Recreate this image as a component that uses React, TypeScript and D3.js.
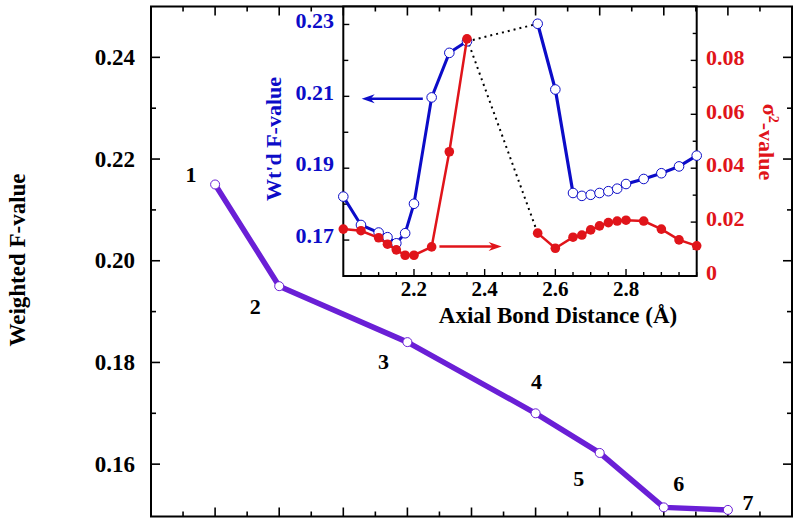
import React from "react";
import * as d3 from "d3";

// ---- main chart data ----
const mainX = [1, 2, 4, 6, 7, 8, 9];
const mainY = [0.215, 0.195, 0.184, 0.170, 0.1622, 0.1515, 0.151];
const mainLabels = ["1", "2", "3", "4", "5", "6", "7"];
const mainYTicks = [0.16, 0.18, 0.2, 0.22, 0.24];

// ---- inset data ----
const insetXLeft = [2.0, 2.05, 2.1, 2.125, 2.15, 2.175, 2.2, 2.25, 2.3, 2.35];
const insetXRight = [2.55, 2.6, 2.65, 2.675, 2.7, 2.725, 2.75, 2.775, 2.8, 2.85, 2.9, 2.95, 3.0];
const fValueLeft = [0.1821, 0.1742, 0.1721, 0.1708, 0.1691, 0.1719, 0.1801, 0.2097, 0.2221, 0.2253];
const fValueRight = [0.2302, 0.2119, 0.1831, 0.1823, 0.1826, 0.1831, 0.1836, 0.1843, 0.1856, 0.187, 0.1886, 0.1905, 0.1935];
const sigmaLeft = [0.0174, 0.0168, 0.0142, 0.0118, 0.0097, 0.0077, 0.0077, 0.0108, 0.0461, 0.088];
const sigmaRight = [0.0159, 0.0103, 0.0144, 0.0152, 0.0171, 0.0186, 0.0198, 0.0204, 0.0207, 0.0204, 0.0174, 0.0134, 0.0112];
const insetXTicks = [2.2, 2.4, 2.6, 2.8];
const insetLeftTicks = [0.17, 0.19, 0.21, 0.23];
const insetRightTicks = [0, 0.02, 0.04, 0.06, 0.08];

const FONT = "'Liberation Serif', 'Times New Roman', serif";
const PURPLE = "#6a1fd6";
const BLUE = "#0c0cc8";
const RED = "#e0141a";

export default function App() {
  const xM = d3.scaleLinear().domain([0, 10]).range([151, 792]);
  const yM = d3.scaleLinear().domain([0.15, 0.25]).range([515, 6.5]);
  const frameBottom = 516.5;
  const frameTop = 6.5;

  const xI = d3.scaleLinear().domain([2.0, 3.0]).range([343.3, 696.7]);
  const yL = d3.scaleLinear().domain([0.16, 0.235]).range([276, 6.5]);
  const yR = d3.scaleLinear().domain([0, 0.1]).range([276, 6.5]);

  const mainPts = mainX.map((x, i) => [xM(x), yM(mainY[i])] as [number, number]);
  const line = d3.line();

  const bl = insetXLeft.map((x, i) => [xI(x), yL(fValueLeft[i])] as [number, number]);
  const br = insetXRight.map((x, i) => [xI(x), yL(fValueRight[i])] as [number, number]);
  const rl = insetXLeft.map((x, i) => [xI(x), yR(sigmaLeft[i])] as [number, number]);
  const rr = insetXRight.map((x, i) => [xI(x), yR(sigmaRight[i])] as [number, number]);

  const mainMajorX = d3.range(1, 10);
  const mainMinorX = d3.range(0.5, 10, 1);
  const mainMinorY = [0.17, 0.19, 0.21, 0.23];

  const insetMinorX = d3.range(2.05, 3.0, 0.05).filter((v) => !insetXTicks.some((t) => Math.abs(t - v) < 1e-6));
  const insetLeftMinor = [0.18, 0.2, 0.22];
  const insetRightMinor = [0.01, 0.03, 0.05, 0.07, 0.09];

  const arrowHead = (tx: number, ty: number, dir: number, color: string) => {
    const L = 13, W = 4.5, N = 9;
    const p = `M${tx},${ty} L${tx - dir * L},${ty - W} L${tx - dir * N},${ty} L${tx - dir * L},${ty + W} Z`;
    return <path d={p} fill={color} />;
  };

  const blueArrow = { x1: xI(2.225), x2: xI(2.052), y: yL(0.2093) };
  const redArrow = { x1: xI(2.272), x2: xI(2.448), y: yR(0.0109) };

  return (
    <svg width={800} height={526} style={{ position: "absolute", left: 0, top: 0, background: "#fff" }} fontFamily={FONT}>
      <rect width={800} height={526} fill="#fff" />
      {/* main frame */}
      <rect x={xM(0)} y={frameTop} width={xM(10) - xM(0)} height={frameBottom - frameTop} fill="none" stroke="#000" strokeWidth={2} />

      {/* inset box (white) */}
      <rect x={xI(2.0)} y={frameTop} width={xI(3.0) - xI(2.0)} height={yL(0.16) - frameTop} fill="#fff" stroke="#000" strokeWidth={2} />

      {/* main x ticks top and bottom */}
      {mainMajorX.map((v) => (
        <g key={"mx" + v}>
          <line x1={xM(v)} x2={xM(v)} y1={frameBottom} y2={frameBottom - 9} stroke="#000" strokeWidth={1.6} />
          <line x1={xM(v)} x2={xM(v)} y1={frameTop} y2={frameTop + 9} stroke="#000" strokeWidth={1.6} />
        </g>
      ))}
      {mainMinorX.map((v) => (
        <g key={"mnx" + v}>
          <line x1={xM(v)} x2={xM(v)} y1={frameBottom} y2={frameBottom - 5} stroke="#000" strokeWidth={1.6} />
          <line x1={xM(v)} x2={xM(v)} y1={frameTop} y2={frameTop + 5} stroke="#000" strokeWidth={1.6} />
        </g>
      ))}
      {/* main y ticks left and right */}
      {mainYTicks.map((v) => (
        <g key={"my" + v}>
          <line x1={xM(0)} x2={xM(0) + 9} y1={yM(v)} y2={yM(v)} stroke="#000" strokeWidth={1.6} />
          <line x1={xM(10)} x2={xM(10) - 9} y1={yM(v)} y2={yM(v)} stroke="#000" strokeWidth={1.6} />
          <text x={135} y={yM(v)} dy="0.33em" textAnchor="end" fontSize={23} fontWeight="bold">
            {v.toFixed(2)}
          </text>
        </g>
      ))}
      {mainMinorY.map((v) => (
        <g key={"mny" + v}>
          <line x1={xM(0)} x2={xM(0) + 5} y1={yM(v)} y2={yM(v)} stroke="#000" strokeWidth={1.6} />
          <line x1={xM(10)} x2={xM(10) - 5} y1={yM(v)} y2={yM(v)} stroke="#000" strokeWidth={1.6} />
        </g>
      ))}
      <text transform={`translate(17,260) rotate(-90)`} textAnchor="middle" dy="0.33em" fontSize={23} fontWeight="bold">
        Weighted F-value
      </text>

      {/* main line */}
      <path d={line(mainPts) || ""} fill="none" stroke={PURPLE} strokeWidth={5.5} strokeLinejoin="round" />
      {mainPts.map((p, i) => (
        <circle key={"mp" + i} cx={p[0]} cy={p[1]} r={4.5} fill="#fff" stroke={PURPLE} strokeWidth={1} />
      ))}
      {mainPts.map((p, i) => {
        const off = [[-24, -10], [-24, 21], [-24, 20], [1, -32], [-21, 26], [15, -24], [20, -7]][i];
        return (
          <text key={"ml" + i} x={p[0] + off[0]} y={p[1] + off[1]} dy="0.33em" textAnchor="middle" fontSize={22} fontWeight="bold">
            {mainLabels[i]}
          </text>
        );
      })}

      {/* inset axes ticks */}
      {insetXTicks.map((v) => (
        <g key={"ix" + v}>
          <line x1={xI(v)} x2={xI(v)} y1={yL(0.16)} y2={yL(0.16) - 7} stroke="#000" strokeWidth={1.4} />
          <text x={xI(v)} y={289} dy="0.33em" textAnchor="middle" fontSize={21} fontWeight="bold">
            {v.toFixed(1)}
          </text>
        </g>
      ))}
      {insetMinorX.map((v) => (
        <line key={"imx" + v} x1={xI(v)} x2={xI(v)} y1={yL(0.16)} y2={yL(0.16) - 4} stroke="#000" strokeWidth={1.4} />
      ))}
      {insetLeftTicks.map((v) => (
        <g key={"il" + v}>
          <line x1={xI(2.0)} x2={xI(2.0) + 6} y1={yL(v)} y2={yL(v)} stroke="#000" strokeWidth={1.4} />
          <text x={334} y={yL(v) - 4} dy="0.33em" textAnchor="end" fontSize={22} fontWeight="bold" fill={BLUE}>
            {v.toFixed(2)}
          </text>
        </g>
      ))}
      {insetLeftMinor.map((v) => (
        <line key={"ilm" + v} x1={xI(2.0)} x2={xI(2.0) + 5} y1={yL(v)} y2={yL(v)} stroke="#000" strokeWidth={1.4} />
      ))}
      {insetRightTicks.map((v) => (
        <g key={"ir" + v}>
          <line x1={xI(3.0)} x2={xI(3.0) - 6} y1={yR(v)} y2={yR(v)} stroke="#000" strokeWidth={1.4} />
          <text x={706} y={yR(v) - 3} dy="0.33em" textAnchor="start" fontSize={22} fontWeight="bold" fill={RED}>
            {v === 0 ? "0" : v.toFixed(2)}
          </text>
        </g>
      ))}
      {insetRightMinor.map((v) => (
        <line key={"irm" + v} x1={xI(3.0)} x2={xI(3.0) - 4} y1={yR(v)} y2={yR(v)} stroke="#000" strokeWidth={1.4} />
      ))}
      <text transform={`translate(274,139) rotate(-90)`} textAnchor="middle" dy="0.33em" fontSize={22} fontWeight="bold" fill={BLUE}>
        Wt'd F-value
      </text>
      <text transform={`translate(770,142) rotate(90)`} textAnchor="middle" dy="0.33em" fontSize={22} fontWeight="bold" fill={RED}>
        σ<tspan dy="-0.45em" fontSize={14}>2</tspan><tspan dy="0.45em">-value</tspan>
      </text>
      <text x={558} y={315} dy="0.33em" textAnchor="middle" fontSize={23} fontWeight="bold">
        Axial Bond Distance (Å)
      </text>

      {/* dotted connectors */}
      <line x1={bl[bl.length - 1][0]} y1={bl[bl.length - 1][1]} x2={br[0][0]} y2={br[0][1]} stroke="#000" strokeWidth={2} strokeDasharray="2,4" />
      <line x1={rl[rl.length - 1][0]} y1={rl[rl.length - 1][1]} x2={rr[0][0]} y2={rr[0][1]} stroke="#000" strokeWidth={2} strokeDasharray="2,4" />

      {/* blue series */}
      <path d={line(bl) || ""} fill="none" stroke={BLUE} strokeWidth={3} />
      <path d={line(br) || ""} fill="none" stroke={BLUE} strokeWidth={3.2} />
      {[...bl, ...br].map((p, i) => (
        <circle key={"b" + i} cx={p[0]} cy={p[1]} r={4.8} fill="#fff" stroke={BLUE} strokeWidth={1} />
      ))}

      {/* red series */}
      <path d={line(rl) || ""} fill="none" stroke={RED} strokeWidth={2.5} />
      <path d={line(rr) || ""} fill="none" stroke={RED} strokeWidth={2.5} />
      {[...rl, ...rr].map((p, i) => (
        <circle key={"r" + i} cx={p[0]} cy={p[1]} r={4.8} fill={RED} />
      ))}

      {/* arrows */}
      <line x1={blueArrow.x1} x2={blueArrow.x2 + 8} y1={blueArrow.y} y2={blueArrow.y} stroke={BLUE} strokeWidth={2.5} />
      {arrowHead(blueArrow.x2, blueArrow.y, -1, BLUE)}
      <line x1={redArrow.x1} x2={redArrow.x2 - 8} y1={redArrow.y} y2={redArrow.y} stroke={RED} strokeWidth={2.5} />
      {arrowHead(redArrow.x2, redArrow.y, 1, RED)}
    </svg>
  );
}
